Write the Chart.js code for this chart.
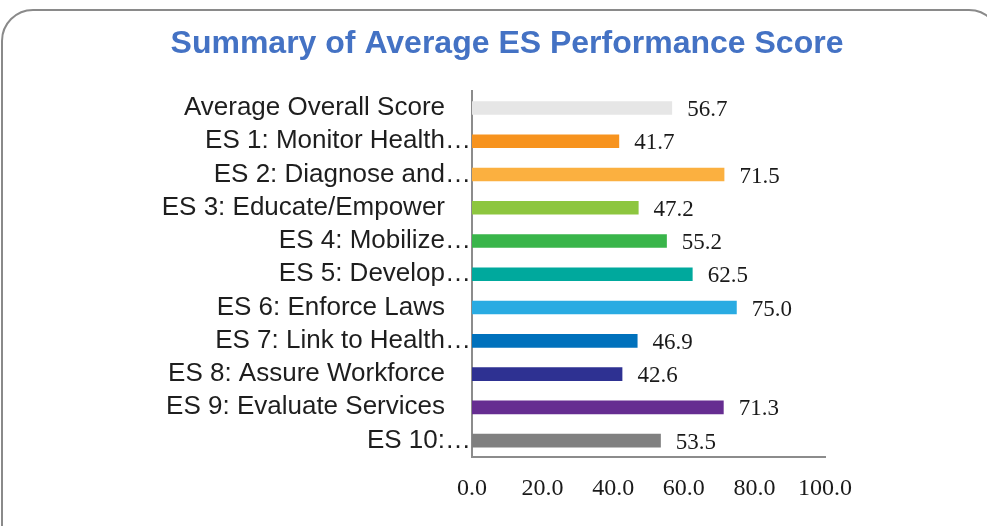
<!DOCTYPE html>
<html>
<head>
<meta charset="utf-8">
<script src="https://cdn.jsdelivr.net/npm/chart.js@4.4.1/dist/chart.umd.min.js"></script>
<style>
  html, body { margin: 0; padding: 0; background: #fff; overflow: hidden; }
  #frame {
    position: absolute; left: 1px; top: 9px; width: 1000px; height: 560px;
    border: 2px solid #8a8a8a; border-radius: 32px; box-sizing: border-box;
  }
  #myChart { position: absolute; left: 0; top: 0; }
</style>
</head>
<body>
<div id="frame"></div>
<canvas id="myChart" width="987" height="526"></canvas>
<script>
const categories = [
  'Average Overall Score',
  'ES 1: Monitor Health\u2026',
  'ES 2: Diagnose and\u2026',
  'ES 3: Educate/Empower',
  'ES 4: Mobilize\u2026',
  'ES 5: Develop\u2026',
  'ES 6: Enforce Laws',
  'ES 7: Link to Health\u2026',
  'ES 8: Assure Workforce',
  'ES 9: Evaluate Services',
  'ES 10:\u2026',
];
const scores = [56.7, 41.7, 71.5, 47.2, 55.2, 62.5, 75.0, 46.9, 42.6, 71.3, 53.5];
const barColors = [
  '#e6e6e6', '#f7931e', '#fbb040', '#8dc63f', '#39b54a', '#00a99d',
  '#29abe2', '#0071bc', '#2e3192', '#662d91', '#808080',
];
const xTicks = [0, 20, 40, 60, 80, 100];

Chart.defaults.font.family = "'Liberation Sans', Arial, sans-serif";

// value labels to the right of each bar
const valueLabels = {
  id: 'valueLabels',
  afterDatasetsDraw(chart) {
    const ctx = chart.ctx;
    const meta = chart.getDatasetMeta(0);
    ctx.save();
    ctx.font = "23px 'Liberation Serif', 'Times New Roman', serif";
    ctx.fillStyle = '#1a1a1a';
    ctx.textAlign = 'left';
    ctx.textBaseline = 'middle';
    meta.data.forEach((bar, i) => {
      ctx.fillText(scores[i].toFixed(1), bar.x + 15, bar.y + 2);
    });
    ctx.restore();
  },
};

const ctx = document.getElementById('myChart');

let chart = new Chart(ctx, {
  type: 'bar',
  data: {
    labels: categories,
    datasets: [
      {
        data: scores,
        backgroundColor: barColors,
        borderWidth: 0,
        barPercentage: 0.41,
        categoryPercentage: 1,
      },
    ],
  },
  options: {
    indexAxis: 'y',
    responsive: false,
    animation: false,
    layout: {
      padding: { left: 37, right: 10, top: 10, bottom: 6 },
    },
    plugins: {
      legend: { display: false },
      tooltip: { enabled: false },
      title: {
        display: true,
        text: 'Summary of Average ES Performance Score',
        color: '#4472c4',
        font: { size: 32, weight: 'bold' },
        padding: { top: 15, bottom: 28 },
      },
    },
    scales: {
      x: {
        min: 0,
        max: 100,
        afterBuildTicks(scale) {
          scale.ticks = xTicks.map((v) => ({ value: v }));
        },
        grid: { display: false, drawTicks: false },
        border: { color: '#8c8c8c', width: 2 },
        ticks: {
          padding: 17,
          color: '#1a1a1a',
          font: { family: "'Liberation Serif', 'Times New Roman', serif", size: 24 },
          callback: (v) => Number(v).toFixed(1),
        },
      },
      y: {
        grid: { display: false, drawTicks: false },
        border: { color: '#8c8c8c', width: 2 },
        afterFit(scale) {
          scale.width = 435;
        },
        ticks: {
          autoSkip: false,
          padding: 1,
          color: '#1e1e1e',
          font: { size: 26 },
          callback: function (value) {
            const l = this.getLabelForValue(value);
            return l.endsWith('\u2026') ? l : l + '\u2003';
          },
        },
      },
      // empty spacer on the right so the plot ends at 100
      y2: {
        axis: 'y',
        type: 'category',
        position: 'right',
        grid: { display: false, drawTicks: false },
        border: { display: false },
        ticks: { display: false },
        afterFit(scale) {
          scale.width = 152;
        },
      },
    },
  },
  plugins: [valueLabels],
});
</script>
</body>
</html>
